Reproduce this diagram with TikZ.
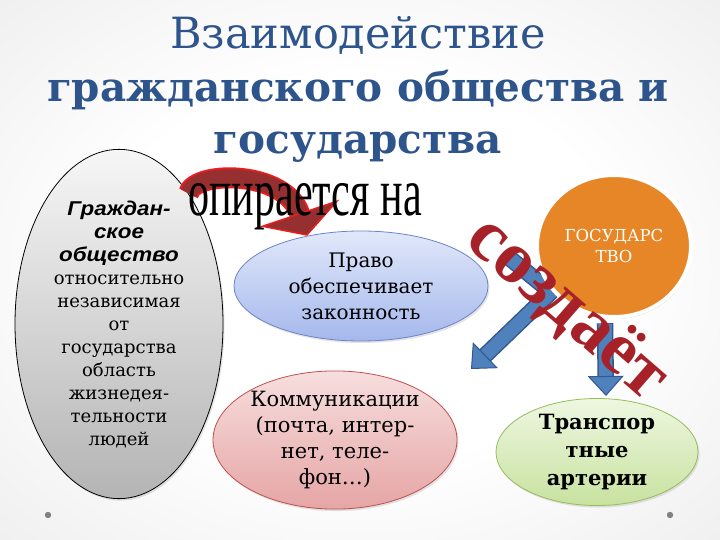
\documentclass[tikz,border=0pt]{standalone}
\usepackage{fontspec}
\setmainfont{DejaVu Serif}
\setsansfont{Liberation Sans}
\newfontfamily\artfont{Liberation Serif}
\newfontfamily\civilfont[FakeStretch=1.12]{Liberation Sans}
\usepackage{tikz}
\usetikzlibrary{arrows.meta,shapes.geometric,shadows,positioning}
\usepackage{xcolor}

\definecolor{titleblue}{RGB}{46,84,140}
\definecolor{bggray}{RGB}{208,208,208}
\definecolor{soctop}{RGB}{246,246,246}
\definecolor{socbot}{RGB}{180,180,180}
\definecolor{lawtop}{RGB}{225,232,250}
\definecolor{lawbot}{RGB}{165,184,236}
\definecolor{lawrim}{RGB}{110,132,200}
\definecolor{comtop}{RGB}{247,222,222}
\definecolor{combot}{RGB}{230,165,165}
\definecolor{comrim}{RGB}{192,80,77}
\definecolor{trntop}{RGB}{238,247,225}
\definecolor{trnbot}{RGB}{200,226,160}
\definecolor{trnrim}{RGB}{150,190,90}
\definecolor{stateorange}{RGB}{231,134,38}
\definecolor{arrowblue}{RGB}{79,129,189}
\definecolor{arrowedge}{RGB}{52,88,140}
\definecolor{redbody}{RGB}{150,48,48}
\definecolor{redrim}{RGB}{232,30,30}
\definecolor{createred}{RGB}{166,34,40}
\definecolor{dotgray}{RGB}{128,128,128}

\pgfdeclareradialshading{slidebg}{\pgfpoint{0bp}{0bp}}{color(0bp)=(white); color(18bp)=(white); color(72bp)=(bggray)}

\newcommand{\civil}[1]{{\civilfont\bfseries\itshape\fontsize{20}{23}\selectfont #1}}

\tikzset{
	oval/.style={ellipse, inner sep=0pt, align=center, line width=0.8pt,
		drop shadow={opacity=0.22, shadow xshift=1.5pt, shadow yshift=-2pt}},
	blockrim/.style={line width=16.5pt, draw=arrowedge, shorten >=19pt, shorten <=-0.8pt, line join=round},
	blockbody/.style={line width=13.5pt, draw=arrowblue, line join=round,
		-{Triangle[length=20pt, width=36pt, fill=arrowblue, color=arrowedge, line width=1pt]}},
	bendrim/.style={line width=21pt, draw=redrim, shorten >=23pt},
	bendbody/.style={line width=17pt, draw=redbody,
		-{Triangle[length=24pt, width=84pt, fill=redbody, color=redrim, line width=1.5pt]}},
}

\begin{document}
\begin{tikzpicture}[x=1pt, y=-1pt]
	\useasboundingbox (0,0) rectangle (720,540);
	\shade[shading=slidebg] (0,0) rectangle (720,540); % slide

	% Title {{{
	\node[anchor=north, align=center, text=titleblue, font=\fontsize{43}{52.5}\selectfont] (title) at (358,13)
		{Взаимодействие\\\bfseries\fontsize{40.5}{52.5}\selectfont гражданского общества и\\\bfseries\fontsize{40.5}{52.5}\selectfont государства};
	% }}}

	% Ovals {{{
	\node[oval, draw=black, top color=soctop, bottom color=socbot, minimum width=208pt, minimum height=288pt,
		font=\fontsize{18}{23}\selectfont] (society) at (119,324)
		{\civil{Граждан-}\\\civil{ское}\\\civil{общество}\\относительно\\независимая\\от\\государства\\область\\жизнедея-\\тельности\\людей};
	\node[oval, draw=lawrim, top color=lawtop, bottom color=lawbot, minimum width=254pt, minimum height=110pt,
		font=\fontsize{20}{26}\selectfont] (law) at (361,286) {Право\\обеспечивает\\законность};
	\node[oval, draw=comrim, top color=comtop, bottom color=combot, minimum width=244pt, minimum height=136pt,
		font=\fontsize{21}{26}\selectfont] (comm) at (335,440) {Коммуникации\\(почта, интер-\\нет, теле-\\фон…)};
	\node[oval, draw=trnrim, top color=trntop, bottom color=trnbot, minimum width=202pt, minimum height=104pt,
		font=\fontsize{21}{28}\selectfont\bfseries] (transport) at (597,452) {Транспор\\тные\\артерии};
	% }}}

	% State and its arrows {{{
	\coordinate (tailA) at (507,256);
	\coordinate (kneeA) at (551,292);
	\coordinate (tipA) at (471,369);
	\draw[blockrim] (tailA) -- (kneeA) -- (tipA);
	\draw[blockbody] (tailA) -- (kneeA) -- (tipA);
	\node[ellipse, fill=stateorange, draw=white, line width=4pt, minimum width=154pt, minimum height=142pt,
		align=center, text=white, font=\fontsize{16.5}{21}\selectfont,
		drop shadow={opacity=0.3, shadow xshift=1pt, shadow yshift=-2pt}] (state) at (614,246) {ГОСУДАРС\\ТВО};
	\coordinate (tailB) at (605,324);
	\coordinate (tipB) at (606,396);
	\draw[blockrim] (tailB) -- (tipB);
	\draw[blockbody] (tailB) -- (tipB);
	% }}}

	% Bent arrow and word art {{{
	\draw[bendrim] (society.62) .. controls (195,170) and (285,170) .. (law.137);
	\draw[bendbody] (society.62) .. controls (195,170) and (285,170) .. (law.137);
	\node[anchor=base, text=black] (leans) at (305,215)
		{\scalebox{0.62}[1]{\artfont\fontsize{68}{68}\selectfont опирается на}};
	\node[rotate=-41, text=createred, font=\artfont\bfseries\fontsize{74}{74}\selectfont] (creates) at (567,309) {создаёт};
	% }}}

	\foreach \dx in {48,670} \fill[dotgray] (\dx,515) circle (3.2pt);
\end{tikzpicture}
\end{document}
